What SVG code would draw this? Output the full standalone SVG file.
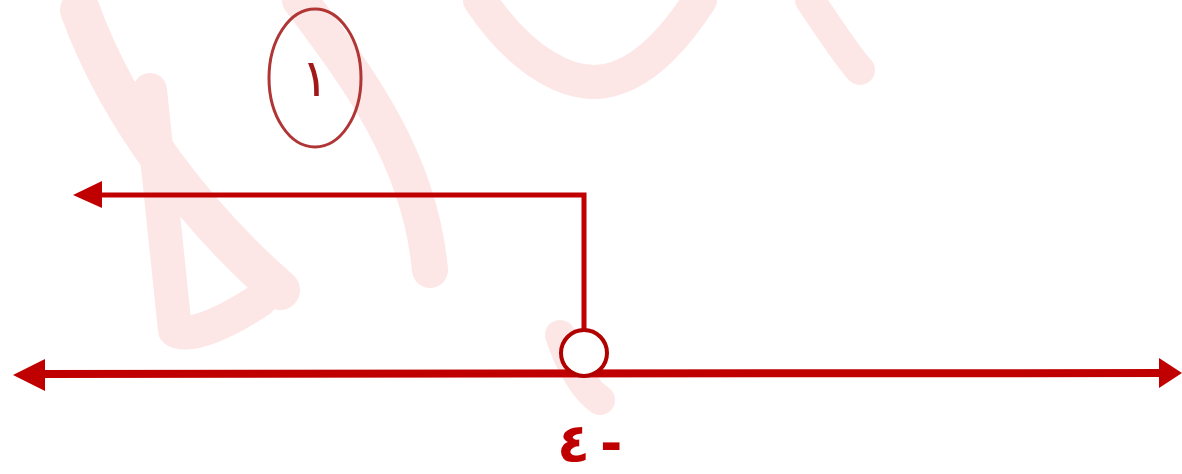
<svg xmlns="http://www.w3.org/2000/svg" width="1182" height="474" viewBox="0 0 1182 474">
<style>
.wm{fill:none;stroke:#fde6e6;stroke-linecap:round;stroke-linejoin:round}
.ln{fill:none;stroke:#c00000}
.ah{fill:#c00000}
.lbl{font-family:"DejaVu Sans",sans-serif;fill:#c00000;font-weight:bold}
</style>
<g id="watermark">
<path class="wm" stroke-width="40" d="M80,10 C120,120 200,220 280,290"/>
<path class="wm" stroke-width="34" d="M150,90 C160,190 170,280 175,330 C190,340 230,320 260,300"/>
<path class="wm" stroke-width="36" d="M300,0 C360,80 420,160 430,270"/>
<path class="wm" stroke-width="34" d="M480,0 C520,60 570,90 610,80 C650,70 680,30 700,0"/>
<path class="wm" stroke-width="30" d="M810,0 C830,30 850,60 860,70"/>
<path class="wm" stroke-width="30" d="M560,335 C570,365 585,390 600,400"/>
</g>
<g id="connectors">
<line class="ln" x1="40" y1="374" x2="1165" y2="373" stroke-width="8"/>
<polygon class="ah" points="13,375 45,359 45,391"/>
<polygon class="ah" points="1182,373 1159,358 1159,388"/>
<polyline class="ln" points="584,330 584,195 98,195" stroke-width="5"/>
<polygon class="ah" points="73,195 102,181 102,208"/>
</g>
<g id="node-open-circle">
<circle cx="584" cy="353" r="23" fill="#fff" stroke="#b00000" stroke-width="4"/>
</g>
<g id="node-label-minus4">
<text class="lbl" x="557" y="462" font-size="54">٤<tspan dx="10">-</tspan></text>
</g>
<g id="node-step1">
<ellipse cx="315" cy="78" rx="46" ry="69" fill="none" stroke="#b03535" stroke-width="3"/>
<text x="315" y="96" font-family="'DejaVu Sans',sans-serif" font-size="52" fill="#a01818" text-anchor="middle">١</text>
</g>
</svg>
